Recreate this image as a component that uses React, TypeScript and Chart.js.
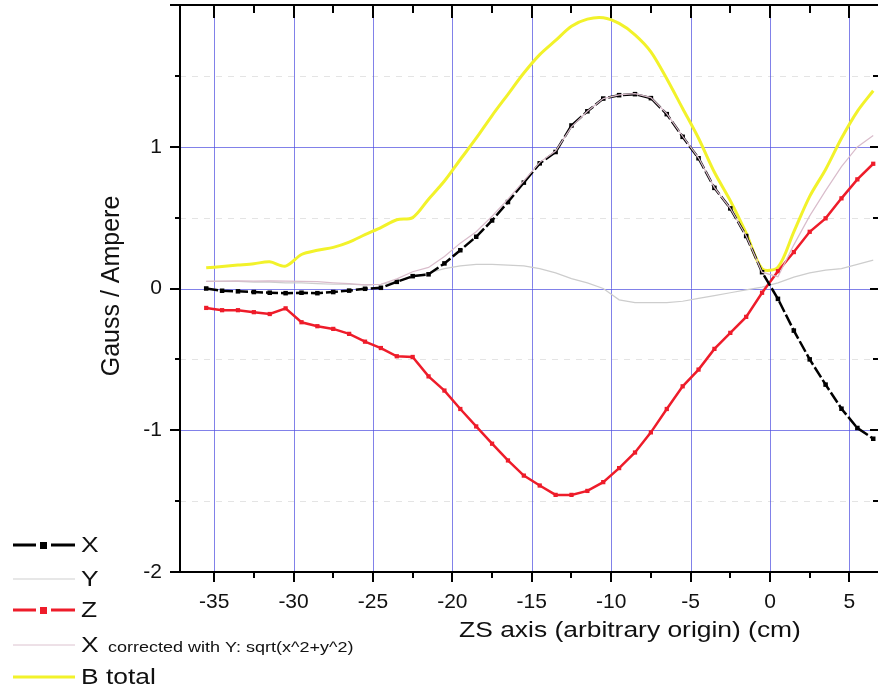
import React, { useEffect, useRef } from "react";
import { Chart, registerables } from "chart.js";

Chart.register(...registerables);

// ---------- data ----------
const POSITIONS = [
  -35.5, -34.5, -33.5, -32.5, -31.5, -30.5, -29.5, -28.5, -27.5, -26.5, -25.5,
  -24.5, -23.5, -22.5, -21.5, -20.5, -19.5, -18.5, -17.5, -16.5, -15.5, -14.5,
  -13.5, -12.5, -11.5, -10.5, -9.5, -8.5, -7.5, -6.5, -5.5, -4.5, -3.5, -2.5,
  -1.5, -0.5, 0.5, 1.5, 2.5, 3.5, 4.5, 5.5, 6.5,
];

const FIELD_X = [
  0.0, -0.016, -0.02, -0.025, -0.03, -0.033, -0.03, -0.033, -0.025, -0.015, -0.002,
  0.005, 0.047, 0.087, 0.1, 0.177, 0.27, 0.365, 0.48, 0.61, 0.747, 0.883,
  0.963, 1.15, 1.25, 1.34, 1.364, 1.371, 1.343, 1.23, 1.07, 0.919, 0.71, 0.565,
  0.37, 0.115, -0.073, -0.297, -0.5, -0.678, -0.848, -0.984, -1.06,
];

const FIELD_Y = [
  0.05, 0.05, 0.05, 0.045, 0.045, 0.04, 0.04, 0.035, 0.03, 0.03, 0.025,
  0.03, 0.05, 0.08, 0.11, 0.14, 0.16, 0.17, 0.17, 0.165, 0.16, 0.14,
  0.11, 0.07, 0.04, 0.0, -0.08, -0.1, -0.1, -0.1, -0.09, -0.07, -0.05, -0.03,
  -0.01, 0.01, 0.04, 0.08, 0.11, 0.13, 0.14, 0.17, 0.2,
];

const FIELD_Z = [
  -0.137, -0.153, -0.153, -0.167, -0.18, -0.14, -0.238, -0.266, -0.285, -0.32, -0.375,
  -0.42, -0.478, -0.483, -0.62, -0.72, -0.85, -0.973, -1.095, -1.213, -1.32, -1.39,
  -1.456, -1.456, -1.428, -1.366, -1.267, -1.157, -1.015, -0.85, -0.69, -0.572, -0.426, -0.313,
  -0.2, -0.03, 0.122, 0.257, 0.4, 0.495, 0.636, 0.77, 0.88,
];

const FIELD_X_CORRECTED = [
  0.05, 0.052, 0.054, 0.052, 0.054, 0.052, 0.05, 0.048, 0.04, 0.034, 0.025,
  0.03, 0.068, 0.118, 0.149, 0.226, 0.32, 0.4, 0.51, 0.63, 0.76, 0.89,
  0.97, 1.14, 1.25, 1.34, 1.366, 1.375, 1.347, 1.234, 1.074, 0.922, 0.712, 0.566,
  0.37, 0.115, 0.083, 0.308, 0.512, 0.69, 0.86, 0.999, 1.08,
];

const FIELD_B_TOTAL = [
  0.146, 0.155, 0.165, 0.175, 0.188, 0.158, 0.24, 0.27, 0.29, 0.327, 0.38,
  0.43, 0.485, 0.5, 0.63, 0.758, 0.91, 1.06, 1.22, 1.37, 1.52, 1.65,
  1.75, 1.85, 1.9, 1.91, 1.87, 1.79, 1.67, 1.48, 1.27, 1.06, 0.82, 0.62,
  0.39, 0.14, 0.15, 0.4, 0.65, 0.84, 1.06, 1.25, 1.395,
];

const X_MAJOR_TICKS = [-35, -30, -25, -20, -15, -10, -5, 0, 5];
const X_MINOR_TICKS = [-32.5, -27.5, -22.5, -17.5, -12.5, -7.5, -2.5, 2.5];
const Y_MAJOR_TICKS = [-2, -1, 0, 1, 2];
const Y_LABEL_TICKS = [-2, -1, 0, 1];
const Y_GRID_VALUES = [-1, 0, 1];
const Y_MINOR_TICKS = [-1.5, -0.5, 0.5, 1.5];

const X_TITLE = "ZS axis (arbitrary origin) (cm)";
const Y_TITLE = "Gauss / Ampere";

const LEGEND_ITEMS = [
  { label: "X", small: "", color: "#000000", width: 3, marker: true },
  { label: "Y", small: "", color: "#cfcfcf", width: 1, marker: false },
  { label: "Z", small: "", color: "#ee1c2a", width: 3, marker: true },
  { label: "X", small: "corrected with Y: sqrt(x^2+y^2)", color: "#dcc2cf", width: 1, marker: false },
  { label: "B total", small: "", color: "#f2f22a", width: 3, marker: false },
];

const FONT = '"Liberation Sans", Arial, Helvetica, sans-serif';
const STRETCH = 1.2;

function pts(values: number[]) {
  return POSITIONS.map((x, i) => ({ x, y: values[i] }));
}

function stretchedText(
  ctx: CanvasRenderingContext2D,
  text: string,
  x: number,
  y: number,
  size: number,
  align: CanvasTextAlign
) {
  ctx.save();
  ctx.font = `${size}px ${FONT}`;
  ctx.translate(x, y);
  ctx.scale(STRETCH, 1);
  ctx.textAlign = align;
  ctx.textBaseline = "middle";
  ctx.fillStyle = "#111";
  ctx.fillText(text, 0, 0);
  ctx.restore();
}

const framePlugin = {
  id: "originFrame",
  beforeDatasetsDraw(chart: any) {
    const { ctx, chartArea } = chart;
    const { left, right, top, bottom } = chartArea;
    const xs = chart.scales.x;
    const ys = chart.scales.y;
    ctx.save();
    // faint minor horizontal grid
    ctx.lineWidth = 1;
    ctx.strokeStyle = "rgba(205,205,205,0.55)";
    ctx.setLineDash([6, 6]);
    for (const v of Y_MINOR_TICKS) {
      const py = Math.round(ys.getPixelForValue(v)) + 0.5;
      ctx.beginPath();
      ctx.moveTo(left, py);
      ctx.lineTo(right, py);
      ctx.stroke();
    }
    ctx.setLineDash([]);
    // blue major grid
    ctx.strokeStyle = "rgba(80,80,225,0.72)";
    for (const v of X_MAJOR_TICKS) {
      const px = Math.round(xs.getPixelForValue(v)) + 0.5;
      ctx.beginPath();
      ctx.moveTo(px, top);
      ctx.lineTo(px, bottom);
      ctx.stroke();
    }
    for (const v of Y_GRID_VALUES) {
      const py = Math.round(ys.getPixelForValue(v)) + 0.5;
      ctx.beginPath();
      ctx.moveTo(left, py);
      ctx.lineTo(right, py);
      ctx.stroke();
    }
    ctx.restore();
  },
  afterDraw(chart: any) {
    const { ctx, chartArea } = chart;
    const { left, right, top, bottom } = chartArea;
    const xs = chart.scales.x;
    const ys = chart.scales.y;
    ctx.save();
    ctx.strokeStyle = "#000";
    ctx.lineWidth = 2;
    // frame (left, top, bottom; right axis lies at the image edge)
    ctx.beginPath();
    ctx.moveTo(left, top);
    ctx.lineTo(right, top);
    ctx.moveTo(left, bottom);
    ctx.lineTo(right, bottom);
    ctx.moveTo(left, top - 1);
    ctx.lineTo(left, bottom + 1);
    ctx.stroke();
    // ticks
    ctx.beginPath();
    for (const v of X_MAJOR_TICKS) {
      const px = Math.round(xs.getPixelForValue(v));
      ctx.moveTo(px, bottom);
      ctx.lineTo(px, bottom + 10);
      ctx.moveTo(px, top);
      ctx.lineTo(px, top + 13);
    }
    for (const v of X_MINOR_TICKS) {
      const px = Math.round(xs.getPixelForValue(v));
      ctx.moveTo(px, bottom);
      ctx.lineTo(px, bottom + 6);
      ctx.moveTo(px, top);
      ctx.lineTo(px, top + 8);
    }
    for (const v of Y_MAJOR_TICKS) {
      const py = Math.round(ys.getPixelForValue(v));
      ctx.moveTo(left, py);
      ctx.lineTo(left - 10, py);
      ctx.moveTo(right, py);
      ctx.lineTo(right - 8, py);
    }
    for (const v of Y_MINOR_TICKS) {
      const py = Math.round(ys.getPixelForValue(v));
      ctx.moveTo(left, py);
      ctx.lineTo(left - 5, py);
      ctx.moveTo(right, py);
      ctx.lineTo(right - 5, py);
    }
    ctx.stroke();

    // axis titles
    stretchedText(ctx, X_TITLE, 630, 631, 22, "center");
    ctx.save();
    ctx.translate(112, 286);
    ctx.rotate(-Math.PI / 2);
    ctx.font = `25px ${FONT}`;
    ctx.textAlign = "center";
    ctx.textBaseline = "middle";
    ctx.fillStyle = "#111";
    ctx.fillText(Y_TITLE, 0, 0);
    ctx.restore();

    // legend
    const rows = [545, 579, 610, 645, 677];
    LEGEND_ITEMS.forEach((item, i) => {
      const yy = rows[i];
      ctx.save();
      ctx.strokeStyle = item.color;
      ctx.lineWidth = item.width;
      ctx.beginPath();
      if (item.marker) {
        ctx.moveTo(13, yy);
        ctx.lineTo(36, yy);
        ctx.moveTo(51, yy);
        ctx.lineTo(75, yy);
        ctx.stroke();
        ctx.fillStyle = item.color;
        ctx.fillRect(40, yy - 3, 7, 7);
      } else {
        ctx.moveTo(13, yy);
        ctx.lineTo(75, yy);
        ctx.stroke();
      }
      ctx.restore();
      stretchedText(ctx, item.label, 81, yy + 1, 22, "left");
      if (item.small) {
        stretchedText(ctx, item.small, 108, yy + 3, 15, "left");
      }
    });
    ctx.restore();
  },
};

export default function App() {
  const canvasRef = useRef<HTMLCanvasElement | null>(null);

  useEffect(() => {
    document.body.style.margin = "0";
    const canvas = canvasRef.current;
    if (!canvas) return;

    const chart = new Chart(canvas, {
      type: "line",
      data: {
        datasets: [
          {
            label: "X corrected with Y: sqrt(x^2+y^2)",
            data: pts(FIELD_X_CORRECTED),
            borderColor: "#d9bccb",
            borderWidth: 1.2,
            pointRadius: 0,
            order: 0,
          },
          {
            label: "X",
            data: pts(FIELD_X),
            borderColor: "#000000",
            backgroundColor: "#000000",
            borderWidth: 2.5,
            borderDash: [12, 3],
            pointStyle: "rect",
            pointRadius: 3.2,
            pointBorderWidth: 0,
            order: 1,
          },
          {
            label: "Z",
            data: pts(FIELD_Z),
            borderColor: "#ee1c2a",
            backgroundColor: "#ee1c2a",
            borderWidth: 2.5,
            pointStyle: "rect",
            pointRadius: 3,
            pointBorderWidth: 0,
            order: 2,
          },
          {
            label: "Y",
            data: pts(FIELD_Y),
            borderColor: "#cdcdcd",
            borderWidth: 1.2,
            pointRadius: 0,
            order: 3,
          },
          {
            label: "B total",
            data: pts(FIELD_B_TOTAL),
            borderColor: "#f2f22a",
            borderWidth: 3,
            pointRadius: 0,
            tension: 0.3,
            order: 4,
          },
        ],
      },
      options: {
        animation: false,
        responsive: false,
        devicePixelRatio: 1,
        layout: { padding: { top: 5, right: 0, left: 0, bottom: 0 } },
        plugins: {
          legend: { display: false },
          tooltip: { enabled: false },
        },
        scales: {
          x: {
            type: "linear",
            min: -37.15,
            max: 6.8,
            grid: { display: false, drawTicks: false },
            border: { display: false },
            afterBuildTicks: (s: any) => {
              s.ticks = X_MAJOR_TICKS.map((v) => ({ value: v }));
            },
            afterFit: (s: any) => {
              s.height = 120;
              s.paddingLeft = 0;
              s.paddingRight = 0;
            },
            ticks: {
              font: { family: FONT, size: 21 },
              color: "#111",
              padding: 18,
              maxRotation: 0,
              autoSkip: false,
            },
          },
          y: {
            type: "linear",
            min: -2,
            max: 2,
            grid: { display: false, drawTicks: false },
            border: { display: false },
            afterBuildTicks: (s: any) => {
              s.ticks = Y_LABEL_TICKS.map((v) => ({ value: v }));
            },
            afterFit: (s: any) => {
              s.width = 180;
              s.paddingTop = 0;
              s.paddingBottom = 0;
            },
            ticks: {
              font: { family: FONT, size: 21 },
              color: "#111",
              padding: 18,
            },
          },
        },
      },
      plugins: [framePlugin],
    });

    return () => chart.destroy();
  }, []);

  return (
    <div style={{ width: 882, height: 692, background: "#fff" }}>
      <canvas ref={canvasRef} width={882} height={692} style={{ display: "block" }} />
    </div>
  );
}
